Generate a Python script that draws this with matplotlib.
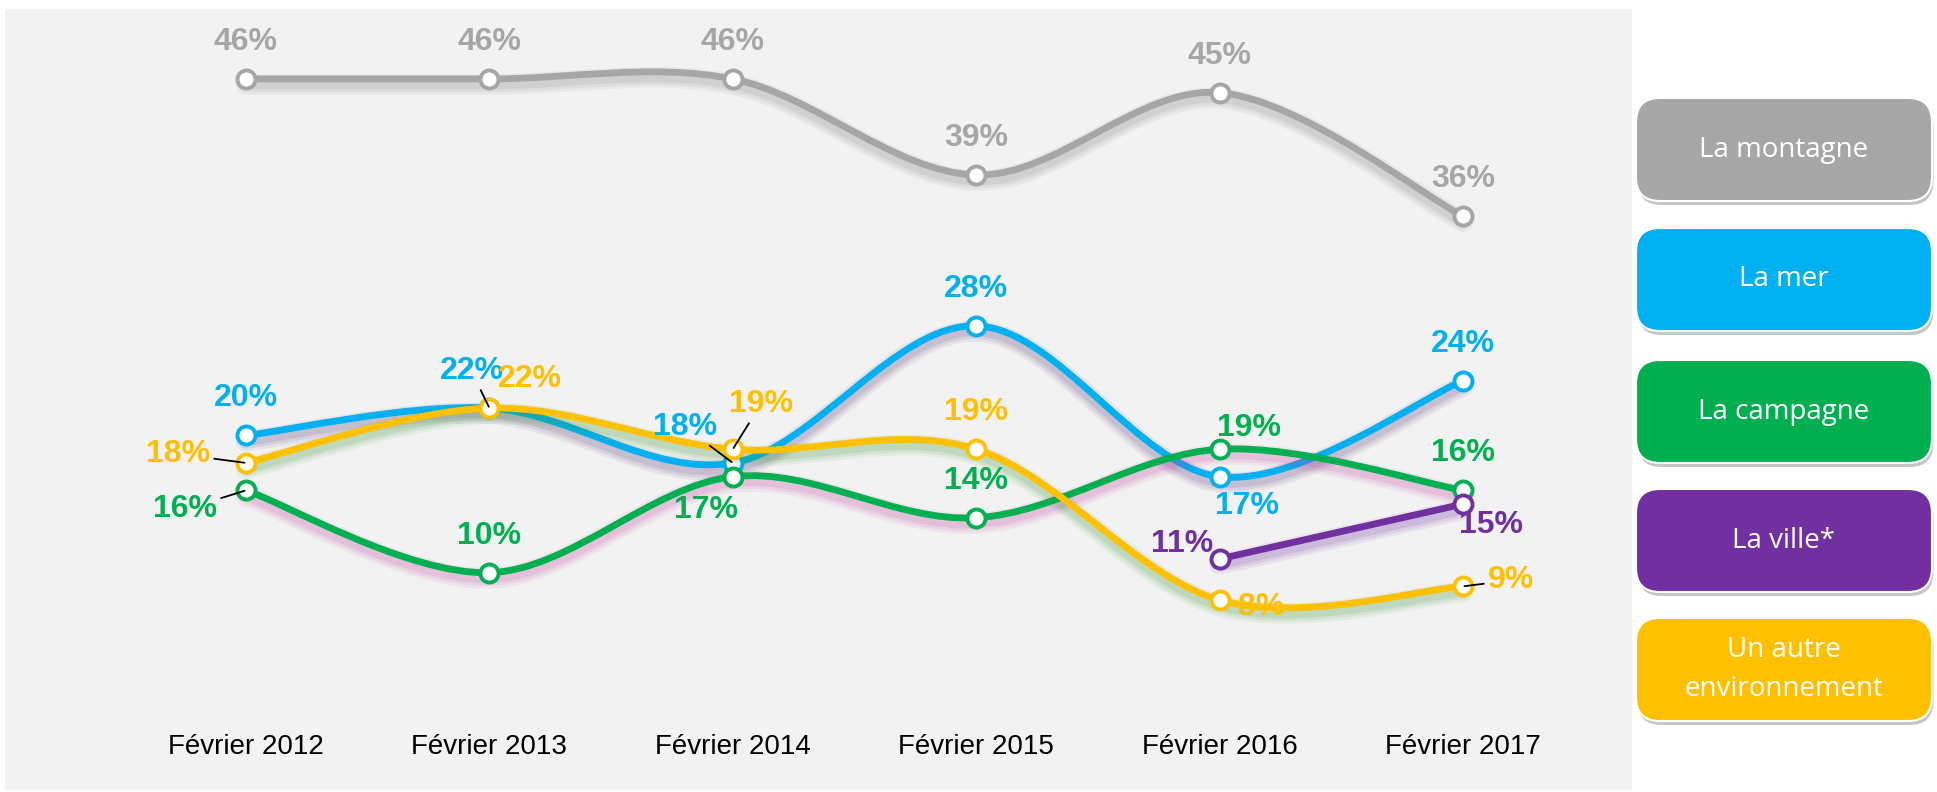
import numpy as np
import matplotlib
matplotlib.use("Agg")
import matplotlib.pyplot as plt
import matplotlib.patheffects as pe
from matplotlib.path import Path
from matplotlib.patches import PathPatch, FancyBboxPatch

# data
periods = ["Février 2012", "Février 2013", "Février 2014",
           "Février 2015", "Février 2016", "Février 2017"]
montagne = [46, 46, 46, 39, 45, 36]
mer = [20, 22, 18, 28, 17, 24]
campagne = [16, 10, 17, 14, 19, 16]
ville = [None, None, None, None, 11, 15]
autre = [18, 22, 19, 19, 8, 9]
legend_labels = ["La montagne", "La mer", "La campagne", "La ville*",
                 "Un autre\nenvironnement"]

GRAY, BLUE, GREEN, PURPLE, YELLOW = "#A6A6A6", "#00B0F0", "#00B050", "#7030A0", "#FFC000"

# (values, colour, shadow colour, smooth, label offsets in px (dx, dy, leader))
series = [
    (montagne, GRAY, "#7F7F7F", True,
     [(0, 37, 0)] * 6),
    (mer, BLUE, "#5A3C78", True,
     [(0, 37, 0), (-18, 37, 1), (-48, 36, 1), (0, 37, 0), (27, -29, 0), (0, 37, 0)]),
    (campagne, GREEN, "#C040A0", True,
     [(-61, -19, 1), (0, 37, 0), (-27, -33, 0), (0, 37, 0), (29, 21, 0), (0, 37, 0)]),
    (ville, PURPLE, "#7030A0", False,
     [None, None, None, None, (-38, 15, 0), (28, -21, 0)]),
    (autre, YELLOW, "#3C9A3C", True,
     [(-68, 9, 1), (40, 29, 0), (28, 45, 1), (0, 37, 0), (42, -7, 0), (48, 6, 1)]),
]


def smooth_path(xs, ys):
    pts = np.column_stack([xs, ys]).astype(float)
    n = len(pts)
    verts, codes = [pts[0]], [Path.MOVETO]
    for i in range(n - 1):
        p0 = pts[i - 1] if i > 0 else pts[i]
        p3 = pts[i + 2] if i + 2 < n else pts[i + 1]
        c1 = pts[i] + (pts[i + 1] - p0) / 6
        c2 = pts[i + 1] - (p3 - pts[i]) / 6
        verts += [c1, c2, pts[i + 1]]
        codes += [Path.CURVE4] * 3
    return Path(verts, codes)


W, H = 1937, 792
fig = plt.figure(figsize=(W / 100, H / 100), dpi=100)
fig.patch.set_facecolor("white")
ax = fig.add_axes([5 / W, 2 / H, 1627 / W, 781 / H])
ax.set_facecolor("#F2F2F2")
for s in ax.spines.values():
    s.set_visible(False)
ax.set_xticks([])
ax.set_yticks([])
ax.set_xlim(-0.99, 5.694)
ax.set_ylim(-5.85, 51.1)

label_font = dict(family="Liberation Sans", weight="bold", size=23)

for z, (vals, col, shcol, smooth, offs) in enumerate(series):
    idx = [i for i, v in enumerate(vals) if v is not None]
    xs = np.array(idx, dtype=float)
    ys = np.array([vals[i] for i in idx], dtype=float)
    shadow = [pe.SimpleLineShadow(offset=(0, -4), shadow_color=shcol, alpha=a, linewidth=w)
              for a, w in [(0.08, 15), (0.10, 11), (0.13, 7)]] + [pe.Normal()]
    path = smooth_path(xs, ys) if smooth else Path(np.column_stack([xs, ys]))
    ax.add_patch(PathPatch(path, fill=False, edgecolor=col, lw=4.9,
                           capstyle="round", joinstyle="round",
                           path_effects=shadow, zorder=2 + z))
    ax.plot(xs, ys, ls="none", marker="o", ms=13, mfc="white", mec=col,
            mew=2.8, zorder=2.5 + z)
    for i, v in zip(idx, ys):
        dx, dy, leader = offs[i]
        arrow = None
        if leader:
            arrow = dict(arrowstyle="-", color="black", lw=1.3,
                         shrinkA=1, shrinkB=1)
        ax.annotate(f"{int(v)}%", xy=(i, v), xytext=(dx, dy),
                    textcoords="offset pixels", ha="center", va="center",
                    color=col, arrowprops=arrow, zorder=10, **label_font)

# category labels along the bottom
for i, p in enumerate(periods):
    ax.text(i, -2.75, p, ha="center", va="center", fontsize=20,
            family="Liberation Sans", color="black")

# legend boxes on the right
box_cols = [GRAY, BLUE, GREEN, PURPLE, YELLOW]
box_tops = [98, 228, 360, 489, 618]
for lab, col, top in zip(legend_labels, box_cols, box_tops):
    x0, w, h = 1636, 296, 103
    y0 = H - top - h
    sh = FancyBboxPatch((x0 / W + 1.5 / W, (y0 - 4) / H), w / W, h / H,
                        boxstyle=f"round,pad=0,rounding_size={24 / W}",
                        transform=fig.transFigure, facecolor="#808080",
                        edgecolor="none", alpha=0.45,
                        mutation_aspect=W / H)
    fig.patches.append(sh)
    bx = FancyBboxPatch((x0 / W, y0 / H), w / W, h / H,
                        boxstyle=f"round,pad=0,rounding_size={24 / W}",
                        transform=fig.transFigure, facecolor=col,
                        edgecolor="white", lw=1.5, mutation_aspect=W / H)
    fig.patches.append(bx)
    fig.text((x0 + w / 2) / W, (y0 + h / 2) / H, lab, ha="center", va="center",
             color="white", fontsize=20, family="Open Sans", linespacing=1.5)

fig.savefig("out.png", dpi=100)
